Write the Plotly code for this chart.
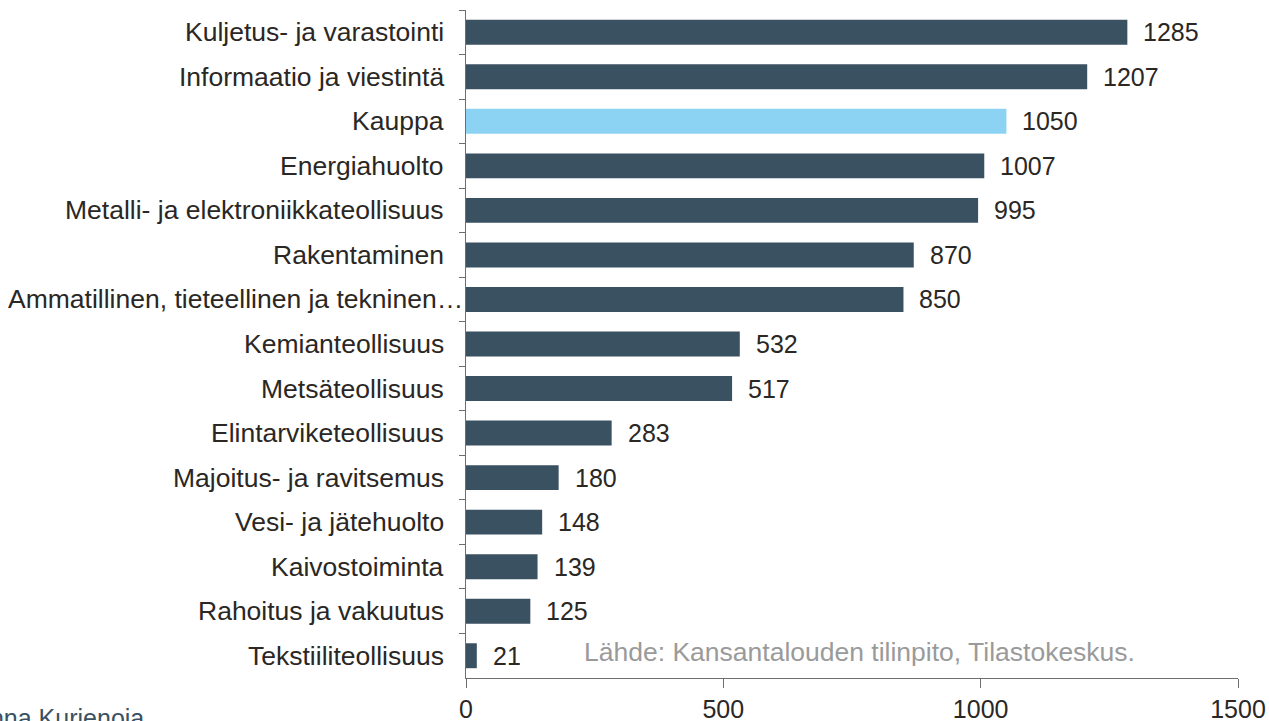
import plotly.graph_objects as go

# Toimialat ylhäältä alas ja niiden arvot
categories = [
    "Kuljetus- ja varastointi",
    "Informaatio ja viestintä",
    "Kauppa",
    "Energiahuolto",
    "Metalli- ja elektroniikkateollisuus",
    "Rakentaminen",
    "Ammatillinen, tieteellinen ja tekninen…",
    "Kemianteollisuus",
    "Metsäteollisuus",
    "Elintarviketeollisuus",
    "Majoitus- ja ravitsemus",
    "Vesi- ja jätehuolto",
    "Kaivostoiminta",
    "Rahoitus ja vakuutus",
    "Tekstiiliteollisuus",
]
values = [1285, 1207, 1050, 1007, 995, 870, 850, 532, 517, 283, 180, 148, 139, 125, 21]
highlight = "Kauppa"
x_ticks = [0, 500, 1000, 1500]

DARK = "#3a5161"
LIGHT = "#8cd3f3"
TEXT = "#2a2724"
FONT = "Liberation Sans, Arial, sans-serif"
FS_CAT = 26.5
FS_VAL = 25

colors = [LIGHT if c == highlight else DARK for c in categories]

fig = go.Figure(
    go.Bar(
        x=values,
        y=categories,
        orientation="h",
        marker=dict(color=colors, line=dict(width=0)),
        hoverinfo="x+y",
    )
)

annotations = []
# Arvotekstit palkkien perään
for c, v in zip(categories, values):
    annotations.append(dict(
        x=v, y=c, xref="x", yref="y", text=str(v), showarrow=False,
        xanchor="left", yanchor="middle", xshift=14,
        font=dict(family=FONT, size=FS_VAL, color=TEXT),
    ))
# Toimialojen nimet akselin vasemmalle puolelle
for c in categories:
    annotations.append(dict(
        x=0, y=c, xref="x", yref="y", text=c, showarrow=False,
        xanchor="right", yanchor="middle",
        xshift=-1 if c.endswith("…") else -20,
        font=dict(family=FONT, size=FS_CAT, color=TEXT),
    ))
# Lähde ja tekijä
annotations.append(dict(
    x=0.150, y=0.039, xref="paper", yref="paper",
    text="Lähde: Kansantalouden tilinpito, Tilastokeskus.", showarrow=False,
    xanchor="left", yanchor="middle",
    font=dict(family=FONT, size=FS_CAT, color="#9a9a9a"),
))
annotations.append(dict(
    x=-0.414, y=-0.036, xref="paper", yref="paper",
    text="Hanna Kurjenoja", showarrow=False,
    xanchor="right", yanchor="top",
    font=dict(family=FONT, size=FS_VAL, color="#3a5161"),
))

fig.update_layout(
    width=1269,
    height=721,
    margin=dict(l=466, r=31, t=10, b=43, autoexpand=False),
    paper_bgcolor="white",
    plot_bgcolor="white",
    bargap=0.44,
    showlegend=False,
    font=dict(family=FONT, size=FS_VAL, color=TEXT),
    annotations=annotations,
    xaxis=dict(
        range=[0, 1500],
        tickvals=x_ticks,
        ticktext=[str(t) for t in x_ticks],
        showgrid=False,
        zeroline=False,
        showline=True,
        linecolor="#6e6e6e",
        linewidth=1,
        ticks="outside",
        ticklen=9,
        tickcolor="#6e6e6e",
        tickfont=dict(family=FONT, size=FS_VAL, color=TEXT),
    ),
    yaxis=dict(
        autorange="reversed",
        showticklabels=False,
        showgrid=False,
        showline=True,
        linecolor="#6e6e6e",
        linewidth=1,
        ticks="outside",
        tickson="boundaries",
        ticklen=6,
        tickcolor="#6e6e6e",
    ),
)

fig.write_html("out.html")
